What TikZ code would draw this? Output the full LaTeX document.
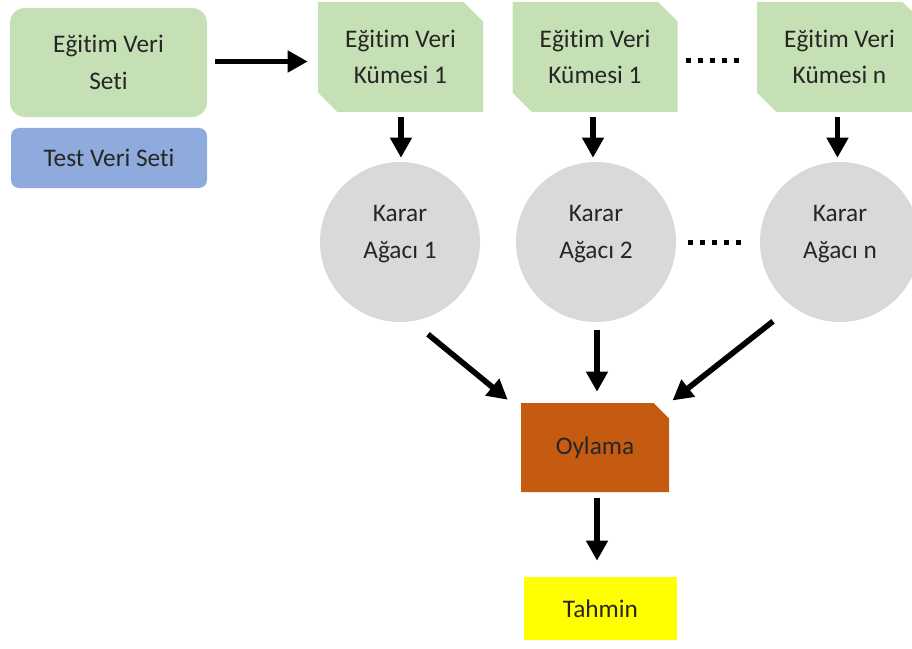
\documentclass[tikz,border=0pt]{standalone}
\usepackage{fontspec}
\setmainfont[Ligatures=NoCommon]{Carlito}
\usetikzlibrary{positioning,arrows.meta,shapes.misc}
\definecolor{setgreen}{HTML}{C5E0B4}
\definecolor{setblue}{HTML}{8FAADC}
\definecolor{treegray}{HTML}{D9D9D9}
\definecolor{voteorange}{HTML}{C55A11}
\definecolor{predyellow}{HTML}{FFFF00}

\begin{document}
\begin{tikzpicture}[
		every node/.style={align=center, inner sep=0pt, font=\fontsize{18}{26}\selectfont, text=black!85},
		mainarrow/.style={-{Triangle[length=0.5cm,width=0.52cm]}, line width=4pt, color=black},
		dotline/.style={line width=0.125cm, dash pattern=on 0.125cm off 0.175cm, color=black},
		dataset/.style={
			rectangle,
			rounded corners=0.375cm,
			minimum width=4.925cm,
			minimum height=2.725cm,
			fill=setgreen
		},
		testset/.style={
			rectangle,
			rounded corners=0.2cm,
			minimum width=4.9cm,
			minimum height=1.5cm,
			fill=setblue
		},
		subset/.style={
			chamfered rectangle,
			chamfered rectangle corners={north east, south west},
			chamfered rectangle xsep=0.375cm,
			minimum width=4.125cm,
			minimum height=2.75cm,
			fill=setgreen
		},
		tree/.style={
			circle,
			minimum size=4cm,
			fill=treegray,
			execute at end node={\rule[-0.5cm]{0pt}{0pt}}
		},
		vote/.style={
			chamfered rectangle,
			chamfered rectangle corners={north east},
			chamfered rectangle xsep=0.3cm,
			minimum width=3.7cm,
			minimum height=2.225cm,
			fill=voteorange
		},
		pred/.style={
			rectangle,
			minimum width=3.825cm,
			minimum height=1.575cm,
			fill=predyellow
		}
		]
		
		\useasboundingbox (0,0) rectangle (22.8,-16.225);
		
		% --- Data sets ---
		\node[dataset] (Seti) at (2.7125,-1.5625) {Eğitim Veri\\Seti};
		\node[testset] (Test) at (2.725,-3.95) {Test Veri Seti};
		
		% --- Subsets ---
		\node[subset] (K1) at (10.0125,-1.425) {Eğitim Veri\\Kümesi 1};
		\node[subset] (K2) at (14.875,-1.425) {Eğitim Veri\\Kümesi 1};
		\node[subset] (Kn) at (20.9875,-1.425) {Eğitim Veri\\Kümesi n};
		
		% --- Trees ---
		\node[tree] (A1) at (10,-6.05) {Karar\\Ağacı 1};
		\node[tree] (A2) at (14.9,-6.05) {Karar\\Ağacı 2};
		\node[tree] (An) at (21,-6.05) {Karar\\Ağacı n};
		
		% --- Voting and prediction ---
		\node[vote] (Oy) at (14.875,-11.1875) {Oylama};
		\node[pred] (Tah) at (15.0125,-15.2125) {Tahmin};
		
		% --- Arrows ---
		\draw[mainarrow, shorten <=0.2cm, shorten >=0.25cm] ([yshift=0.025cm]Seti.east) -- ([yshift=0.025cm]Seti.east -| K1.west);
		\draw[mainarrow, shorten <=0.125cm, shorten >=0.1cm] ([xshift=0.012cm]K1.south) -- ([xshift=0.012cm]K1.south |- A1.north);
		\draw[mainarrow, shorten <=0.125cm, shorten >=0.1cm] ([xshift=-0.05cm]K2.south) -- ([xshift=-0.05cm]K2.south |- A2.north);
		\draw[mainarrow, shorten <=0.125cm, shorten >=0.1cm] ([xshift=-0.05cm]Kn.south) -- ([xshift=-0.05cm]Kn.south |- An.north);
		
		\draw[mainarrow] ([shift={(0.7,-0.3)}]A1.south) -- ([shift={(-0.325,0.075)}]Oy.north west);
		\draw[mainarrow, shorten <=0.2cm, shorten >=0.275cm] ([xshift=0.025cm]A2.south) -- ([xshift=0.025cm]A2.south |- Oy.north);
		\draw[mainarrow] ([shift={(-1.675,0.025)}]An.south) -- ([shift={(0.275,0.25)}]Oy.north east);
		
		\draw[mainarrow, shorten <=0.15cm, shorten >=0.4cm] ([xshift=0.05cm]Oy.south) -- ([xshift=0.05cm]Oy.south |- Tah.north);
		
		% --- Dots ---
		\draw[dotline, shorten <=0.2cm, shorten >=0.3cm] ([yshift=-0.1cm]K2.east) -- ([yshift=-0.1cm]Kn.west);
		\draw[dotline, shorten <=0.3cm, shorten >=0.325cm] (A2.east) -- (An.west);
		
	\end{tikzpicture}
\end{document}
